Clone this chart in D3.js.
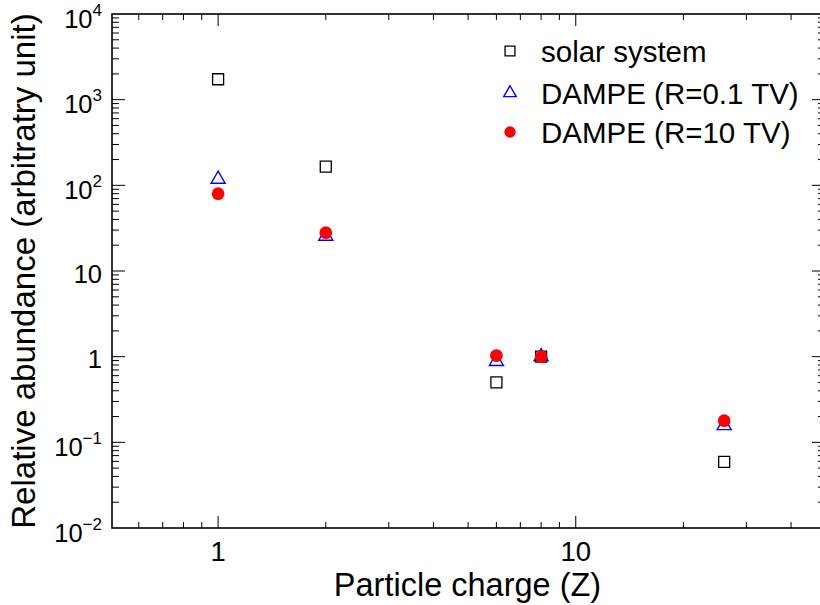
<!DOCTYPE html>
<html>
<head>
<meta charset="utf-8">
<script src="https://cdn.jsdelivr.net/npm/d3@7"></script>
<style>
  html, body { margin: 0; padding: 0; background: #fff; }
  svg { display: block; font-family: "Liberation Sans", Arial, Helvetica, sans-serif; }
</style>
</head>
<body>
<svg id="chart" width="820" height="605"></svg>
<script>
// Particle charge of each element (H, He, C, O, Fe)
const charges = [1, 2, 6, 8, 26];
// Relative abundances, normalised to oxygen
const solarSystem = [1730, 165, 0.50, 1.0, 0.059];
const dampeLowRigidity = [118, 25.5, 0.88, 1.0, 0.157];
const dampeHighRigidity = [80, 28, 1.03, 1.0, 0.179];

const seriesNames = ["solar system", "DAMPE (R=0.1 TV)", "DAMPE (R=10 TV)"];

// Tick labels: base and exponent (empty exponent = plain number)
const yTickValues = [1e-2, 1e-1, 1, 10, 1e2, 1e3, 1e4];
const yTickLabels = [["10", "\u22122"], ["10", "\u22121"], ["1", ""], ["10", ""], ["10", "2"], ["10", "3"], ["10", "4"]];
const xTickValues = [1, 10];
const xTickLabels = ["1", "10"];

const svg = d3.select("#chart");
const plotLeft = 112, plotRight = 821, plotTop = 14, plotBottom = 528;

const x = d3.scaleLog().domain([0.505, 48.5]).range([plotLeft, plotRight]);
const y = d3.scaleLog().domain([1e-2, 1e4]).range([plotBottom, plotTop]);

const isMajor = v => Math.abs(Math.log10(v) - Math.round(Math.log10(v))) < 1e-9;

const xt = x.ticks().filter(v => v > 0.505 && v < 48.5);
const yt = y.ticks().filter(v => v > 1e-2 && v < 1e4);

// Inward-pointing ticks on all four sides
function drawTicks(values, scale, orient, pos) {
  const g = svg.append("g");
  values.forEach(v => {
    const p = scale(v);
    let x1, y1, x2, y2;
    if (orient === "bottom") { x1 = x2 = p; y1 = pos; y2 = pos - (isMajor(v) ? 12 : 6); }
    if (orient === "top") { x1 = x2 = p; y1 = pos; y2 = pos + (isMajor(v) ? 12 : 6); }
    if (orient === "left") { y1 = y2 = p; x1 = pos; x2 = pos + (isMajor(v) ? 13 : 7); }
    if (orient === "right") { y1 = y2 = p; x1 = pos; x2 = pos - (isMajor(v) ? 10 : 4); }
    g.append("line").attr("x1", x1).attr("y1", y1).attr("x2", x2).attr("y2", y2)
      .attr("stroke", "#000").attr("stroke-width", 1);
  });
}
drawTicks(xt, x, "bottom", plotBottom);
drawTicks(xt, x, "top", plotTop);
drawTicks(yt, y, "left", plotLeft);
drawTicks(yt, y, "right", plotRight + 1);

// Frame
svg.append("rect")
  .attr("x", plotLeft).attr("y", plotTop)
  .attr("width", plotRight + 1 - plotLeft).attr("height", plotBottom - plotTop)
  .attr("fill", "none").attr("stroke", "#000").attr("stroke-width", 1.6);

// Y tick labels
const yLab = svg.append("g").attr("font-size", 25.5).attr("fill", "#000");
yTickValues.forEach((v, i) => {
  const [base, exp] = yTickLabels[i];
  const t = yLab.append("text")
    .attr("x", 102)
    .attr("y", y(v) + (exp ? 13.5 : 11.5))
    .attr("text-anchor", "end");
  t.append("tspan").text(base);
  if (exp) {
    t.append("tspan").attr("font-size", 17).attr("dy", -12).text(exp);
  }
});

// X tick labels
const xLab = svg.append("g").attr("font-size", 27.5).attr("fill", "#000");
xTickValues.forEach((v, i) => {
  xLab.append("text")
    .attr("x", x(v)).attr("y", 560.5)
    .attr("text-anchor", "middle")
    .text(xTickLabels[i]);
});

// Axis titles
svg.append("text")
  .attr("x", (plotLeft + plotRight) / 2 + 1).attr("y", 596)
  .attr("text-anchor", "middle").attr("font-size", 32.5)
  .text("Particle charge (Z)");
svg.append("text")
  .attr("transform", `translate(35,${(plotTop + plotBottom) / 2}) rotate(-90)`)
  .attr("text-anchor", "middle").attr("font-size", 33)
  .text("Relative abundance (arbitratry unit)");

// Marker styles
const markers = [
  { type: d3.symbolSquare, size: 121, fill: "none", stroke: "#000", sw: 1.3 },
  { type: d3.symbolTriangle, size: 85, fill: "none", stroke: "#0000ff", sw: 1.4 },
  { type: d3.symbolCircle, size: 127, fill: "#ff0000", stroke: "none", sw: 0 }
];
const seriesValues = [solarSystem, dampeLowRigidity, dampeHighRigidity];

seriesValues.forEach((vals, s) => {
  const m = markers[s];
  svg.append("g").selectAll("path")
    .data(charges.map((z, i) => [z, vals[i]]))
    .join("path")
    .attr("d", d3.symbol().type(m.type).size(m.size))
    .attr("transform", d => `translate(${x(d[0])},${y(d[1])})`)
    .attr("fill", m.fill).attr("stroke", m.stroke).attr("stroke-width", m.sw);
});

// Legend
const legend = svg.append("g");
const legendRows = [51, 93, 132];
seriesNames.forEach((name, s) => {
  const m = markers[s];
  legend.append("path")
    .attr("d", d3.symbol().type(m.type).size(m.size * 0.8))
    .attr("transform", `translate(510,${legendRows[s]})`)
    .attr("fill", m.fill).attr("stroke", m.stroke).attr("stroke-width", m.sw);
  legend.append("text")
    .attr("x", 541).attr("y", legendRows[s] + 10.5)
    .attr("font-size", 29.5)
    .text(name);
});
</script>
</body>
</html>
